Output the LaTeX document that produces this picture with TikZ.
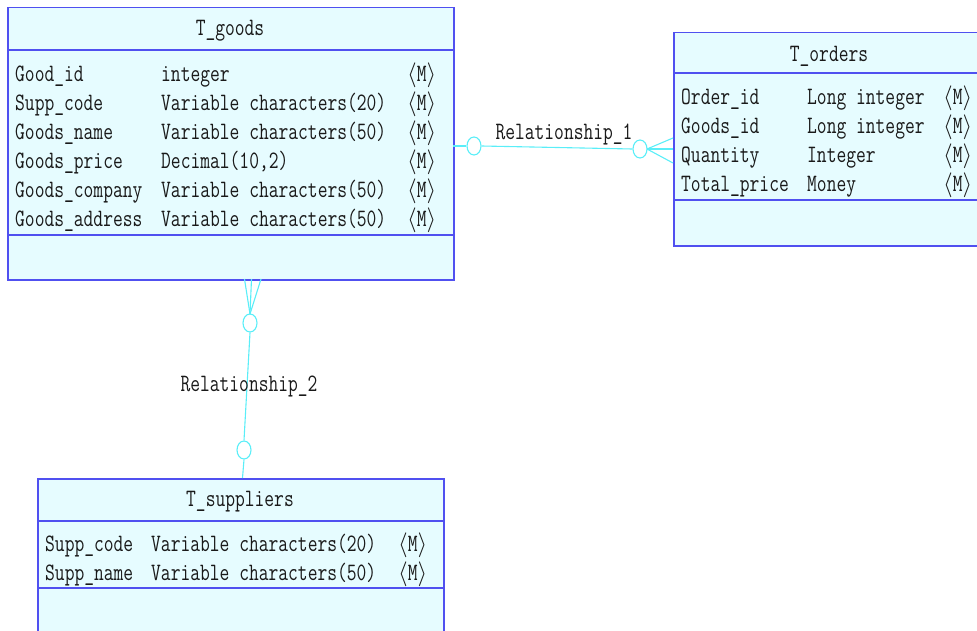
\documentclass[tikz,border=0pt]{standalone}
\usepackage{fontspec}
\newfontfamily\erfont[FakeStretch=0.76]{Latin Modern Mono}
\usetikzlibrary{shapes.geometric}
\definecolor{tblfill}{RGB}{230,252,255}
\definecolor{tblline}{RGB}{80,80,240}
\definecolor{lnkcol}{RGB}{90,238,248}
\definecolor{txtcol}{RGB}{25,25,25}
\newcommand{\mk}{$\langle$M$\rangle$}
\begin{document}
\begin{tikzpicture}[x=1pt,y=-1pt,
  tbl/.style={draw=tblline, fill=tblfill, line width=1.5pt, inner sep=0pt, anchor=north west},
  sepline/.style={draw=tblline, line width=1.5pt},
  txt/.style={font=\erfont\fontsize{25}{30}\selectfont, text=txtcol, inner sep=0pt, anchor=base west},
  ttl/.style={font=\erfont\fontsize{25}{30}\selectfont, text=txtcol, inner sep=0pt, anchor=base},
  lnk/.style={draw=lnkcol, line width=1.1pt},
  card/.style={ellipse, draw=lnkcol, line width=1.1pt, fill=white, minimum width=14pt, minimum height=18pt, inner sep=0pt}]
\useasboundingbox (0,0) rectangle (977,631);

% ---------- T_goods ----------
\node[tbl, minimum width=446pt, minimum height=272pt] (goods) at (7,7) {};
\draw[sepline] (7,50) -- (455,50);
\draw[sepline] (7,235) -- (455,235);
\node[ttl] (goodsT) at (230,36) {T\_goods};
\node[txt] (g1n) at (15,81.5) {Good\_id};
\node[txt] (g1t) at (161,81.5) {integer};
\node[txt] (g1m) at (407,81.5) {\mk};
\node[txt] (g2n) at (15,110.5) {Supp\_code};
\node[txt] (g2t) at (161,110.5) {Variable characters(20)};
\node[txt] (g2m) at (407,110.5) {\mk};
\node[txt] (g3n) at (15,139.5) {Goods\_name};
\node[txt] (g3t) at (161,139.5) {Variable characters(50)};
\node[txt] (g3m) at (407,139.5) {\mk};
\node[txt] (g4n) at (15,168.5) {Goods\_price};
\node[txt] (g4t) at (161,168.5) {Decimal(10,2)};
\node[txt] (g4m) at (407,168.5) {\mk};
\node[txt] (g5n) at (15,197.5) {Goods\_company};
\node[txt] (g5t) at (161,197.5) {Variable characters(50)};
\node[txt] (g5m) at (407,197.5) {\mk};
\node[txt] (g6n) at (15,226.5) {Goods\_address};
\node[txt] (g6t) at (161,226.5) {Variable characters(50)};
\node[txt] (g6m) at (407,226.5) {\mk};

% ---------- T_orders ----------
\node[tbl, minimum width=330pt, minimum height=213pt] (orders) at (673,32) {};
\draw[sepline] (673,73) -- (990,73);
\draw[sepline] (673,200) -- (990,200);
\node[ttl] (ordersT) at (829,61.5) {T\_orders};
\node[txt] (o1n) at (681,105) {Order\_id};
\node[txt] (o1t) at (807,105) {Long integer};
\node[txt] (o1m) at (943,105) {\mk};
\node[txt] (o2n) at (681,134) {Goods\_id};
\node[txt] (o2t) at (807,134) {Long integer};
\node[txt] (o2m) at (943,134) {\mk};
\node[txt] (o3n) at (681,163) {Quantity};
\node[txt] (o3t) at (807,163) {Integer};
\node[txt] (o3m) at (943,163) {\mk};
\node[txt] (o4n) at (681,192) {Total\_price};
\node[txt] (o4t) at (807,192) {Money};
\node[txt] (o4m) at (943,192) {\mk};

% ---------- T_suppliers ----------
\node[tbl, minimum width=406pt, minimum height=180pt] (supp) at (37,478) {};
\draw[sepline] (37,521) -- (443,521);
\draw[sepline] (37,588) -- (443,588);
\node[ttl] (suppT) at (240,506) {T\_suppliers};
\node[txt] (s1n) at (45,551.5) {Supp\_code};
\node[txt] (s1t) at (151,551.5) {Variable characters(20)};
\node[txt] (s1m) at (398,551.5) {\mk};
\node[txt] (s2n) at (45,580.5) {Supp\_name};
\node[txt] (s2t) at (151,580.5) {Variable characters(50)};
\node[txt] (s2m) at (398,580.5) {\mk};

% ---------- Relationship_1 ----------
\node[card] (r1a) at (474,146) {};
\node[card] (r1b) at (640,149) {};
\coordinate (r1apex) at (647,149);
\coordinate (r1s) at (453,146);
\coordinate (r1e1) at (673,138);
\coordinate (r1e2) at (673,149);
\coordinate (r1e3) at (673,163);
\draw[lnk] (r1s) -- (r1a.west);
\draw[lnk] (r1a.east) -- (r1b.west);
\draw[lnk] (r1b.east) -- (r1apex);
\draw[lnk] (r1apex) -- (r1e1);
\draw[lnk] (r1apex) -- (r1e2);
\draw[lnk] (r1apex) -- (r1e3);
\node[ttl] (r1lbl) at (564,140) {Relationship\_1};

% ---------- Relationship_2 ----------
\node[card] (r2a) at (250,323) {};
\node[card] (r2b) at (244,450) {};
\coordinate (r2apex) at (250,314);
\coordinate (r2f1) at (244.5,279);
\coordinate (r2f2) at (251.5,279);
\coordinate (r2f3) at (261,279);
\coordinate (r2e) at (242.5,478);
\draw[lnk] (r2apex) -- (r2f1);
\draw[lnk] (r2apex) -- (r2f2);
\draw[lnk] (r2apex) -- (r2f3);
\draw[lnk] (r2a.south) -- (r2b.north);
\draw[lnk] (r2b.south) -- (r2e);
\node[ttl] (r2lbl) at (249,391.5) {Relationship\_2};
\end{tikzpicture}
\end{document}
